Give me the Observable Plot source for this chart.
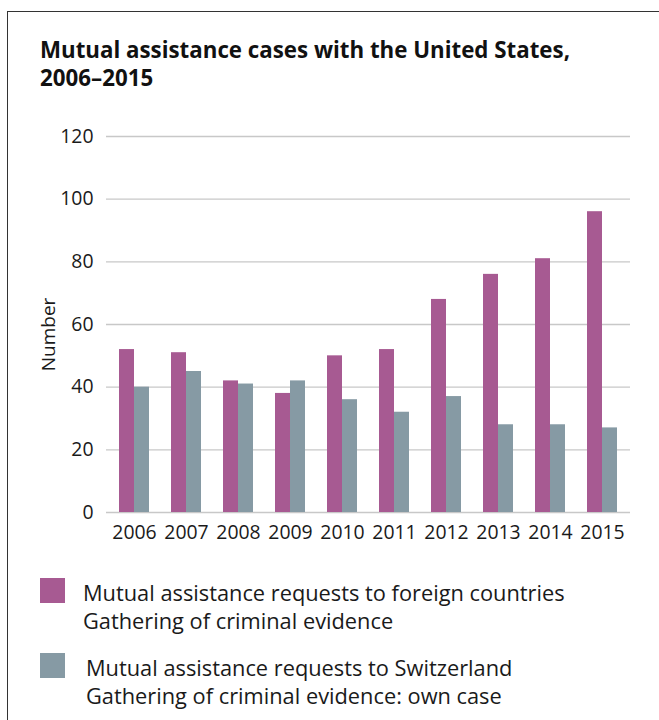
<!DOCTYPE html>
<html>
<head>
<meta charset="utf-8">
<script src="https://cdn.jsdelivr.net/npm/d3@7"></script>
<script src="https://cdn.jsdelivr.net/npm/@observablehq/plot@0.6"></script>
<style>
  html, body { margin: 0; padding: 0; background: #fff; width: 659px; height: 720px; overflow: hidden; }
  body { position: relative; font-family: "Open Sans", sans-serif; color: #1a1a1a; }
  #frame { position: absolute; left: 7px; top: 11px; width: 800px; height: 900px; border: 1.5px solid #333; box-sizing: border-box; }
  #title { position: absolute; left: 40px; top: 36px; font-weight: 700; font-size: 22.3px; line-height: 28px; color: #111; white-space: nowrap; }
  #chart { position: absolute; left: 0; top: 120px; }
  .sw { position: absolute; width: 25px; height: 25px; }
  .lt { position: absolute; font-size: 21.8px; line-height: 28px; color: #1a1a1a; white-space: nowrap; }
</style>
</head>
<body>
<div id="frame"></div>
<div id="title">Mutual assistance cases with the United States,<br>2006–2015</div>
<div id="chart"></div>
<div id="legend"></div>
<script>
const years = ["2006","2007","2008","2009","2010","2011","2012","2013","2014","2015"];
const foreign = [52, 51, 42, 38, 50, 52, 68, 76, 81, 96];
const switzerland = [40, 45, 41, 42, 36, 32, 37, 28, 28, 27];
const yTicks = [0, 20, 40, 60, 80, 100, 120];
const seriesNames = [
  ["Mutual assistance requests to foreign countries", "Gathering of criminal evidence"],
  ["Mutual assistance requests to Switzerland", "Gathering of criminal evidence: own case"]
];
const colors = ["#a75a92", "#869aa4"];

const table = years.map((y, i) => ({year: y, foreign: foreign[i], switzerland: switzerland[i]}));

const plot = Plot.plot({
  width: 659,
  height: 432,
  marginTop: 16,
  marginBottom: 40,
  marginLeft: 106,
  marginRight: 29,
  style: {fontFamily: "'Open Sans', sans-serif", fontSize: "19.4px", color: "#1a1a1a", background: "transparent"},
  x: {type: "band", domain: years, paddingInner: 0.4275, paddingOuter: 0.214},
  y: {domain: [0, 120]},
  marks: [
    Plot.ruleY(yTicks, {stroke: "#c8c8c8", strokeWidth: 1.3}),
    Plot.barY(table, {x: "year", y: "foreign", fill: colors[0], insetRight: 15}),
    Plot.barY(table, {x: "year", y: "switzerland", fill: colors[1], insetLeft: 15}),
    Plot.axisY({ticks: yTicks, tickSize: 0, tickPadding: 13, label: null, fontSize: 19.4}),
    Plot.axisX({tickSize: 0, tickPadding: 13, label: null, fontSize: 19.4}),
    Plot.text(["Number"], {frameAnchor: "left", textAnchor: "middle", lineAnchor: "middle", rotate: -90, dx: -58, dy: 10, fontSize: 19, fill: "#1a1a1a"})
  ]
});
document.getElementById("chart").appendChild(plot);

const legend = document.getElementById("legend");
const legendTops = [578, 653];
const textLefts = [83, 86];
seriesNames.forEach((lines, i) => {
  const sw = document.createElement("div");
  sw.className = "sw";
  sw.style.left = "40px";
  sw.style.top = legendTops[i] + "px";
  sw.style.background = colors[i];
  legend.appendChild(sw);
  const t = document.createElement("div");
  t.className = "lt";
  t.style.left = textLefts[i] + "px";
  t.style.top = (legendTops[i] + 1) + "px";
  t.innerHTML = lines.join("<br>");
  legend.appendChild(t);
});
</script>
</body>
</html>
